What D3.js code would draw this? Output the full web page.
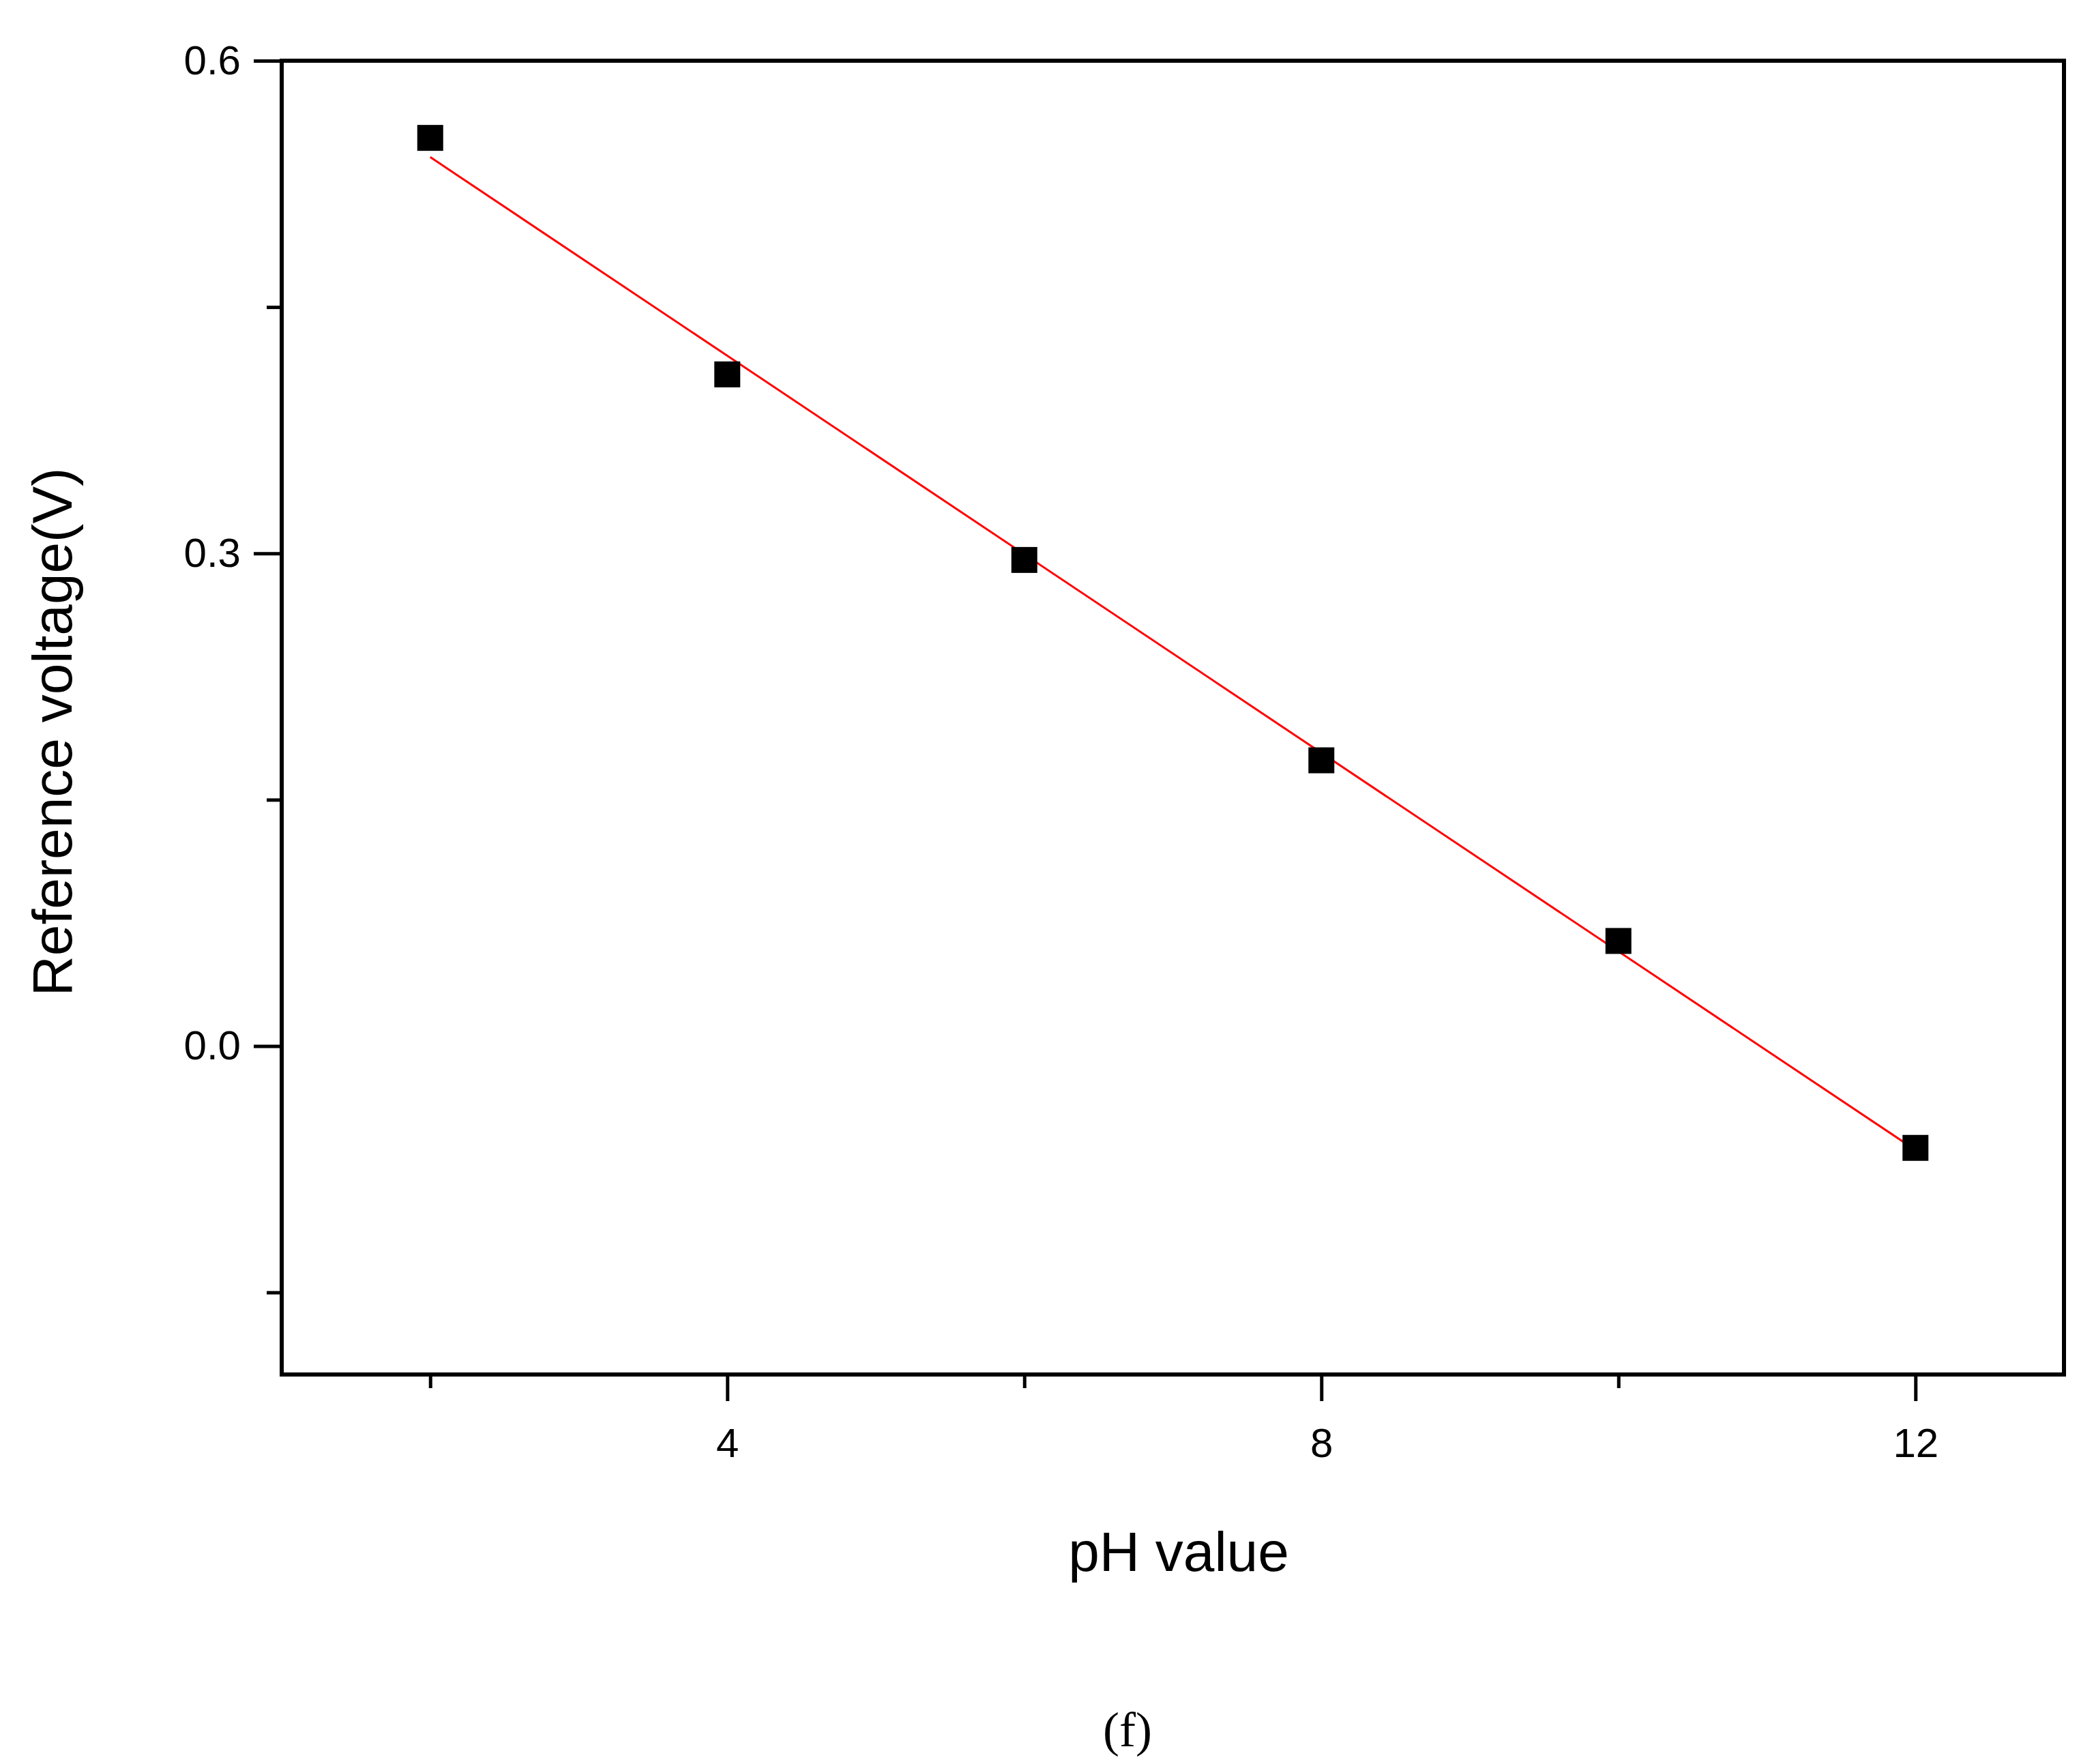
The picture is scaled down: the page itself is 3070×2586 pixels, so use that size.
<!DOCTYPE html>
<html>
<head>
<meta charset="utf-8">
<script src="https://cdn.jsdelivr.net/npm/d3@7"></script>
<style>
  body { margin: 0; background: #fff; }
  text { font-family: "Liberation Sans", Arial, sans-serif; }
</style>
</head>
<body>
<div id="chart"></div>
<script>
// ------------ DATA ------------
var phValues = [2, 4, 6, 8, 10, 12];
var voltages = [0.553, 0.409, 0.296, 0.174, 0.064, -0.062];
var xTickValues = [2, 4, 6, 8, 10, 12];
var xTickLabels = ["", "4", "", "8", "", "12"];
var yTickValues = [-0.15, 0, 0.15, 0.3, 0.45, 0.6];
var yTickLabels = ["", "0.0", "", "0.3", "", "0.6"];

var svgWidth = 3070, svgHeight = 2586;
var margin = { top: 89, right: 44, bottom: 571, left: 413 };
var chartWidth = svgWidth - margin.left - margin.right;
var chartHeight = svgHeight - margin.top - margin.bottom;

var svg = d3.select("#chart").append("svg")
  .attr("width", svgWidth)
  .attr("height", svgHeight);

var chartGroup = svg.append("g")
  .attr("transform", `translate(${margin.left}, ${margin.top})`);

// scales
var x = d3.scaleLinear().domain([1, 13]).range([0, chartWidth]);
var y = d3.scaleLinear().domain([-0.2, 0.6]).range([chartHeight, 0]);

// linear fit (least squares)
var mx = d3.mean(phValues), my = d3.mean(voltages);
var sxy = d3.sum(phValues, (p, i) => (p - mx) * (voltages[i] - my));
var sxx = d3.sum(phValues, p => (p - mx) * (p - mx));
var slope = sxy / sxx, intercept = my - slope * mx;

// ------------ AXES ------------
var bottomAxis = d3.axisBottom(x).tickValues(xTickValues)
  .tickSize(39).tickFormat((d, i) => xTickLabels[i]);
var leftAxis = d3.axisLeft(y).tickValues(yTickValues)
  .tickSize(41).tickFormat((d, i) => yTickLabels[i]);

var gx = chartGroup.append("g")
  .attr("transform", "translate(0," + chartHeight + ")")
  .call(bottomAxis);
var gy = chartGroup.append("g").call(leftAxis);

[gx, gy].forEach(function(g) {
  g.attr("font-size", null);
  g.select(".domain").remove();
  g.selectAll(".tick line").attr("stroke", "#000").attr("stroke-width", 5);
  g.selectAll(".tick text").attr("fill", "#000").style("font-size", "60px");
});
gx.selectAll(".tick line").attr("y2", (d, i) => xTickLabels[i] ? 39 : 20);
gx.selectAll(".tick text").attr("y", 78);
gy.selectAll(".tick line").attr("x2", (d, i) => yTickLabels[i] ? -41 : -22);
gy.selectAll(".tick text").attr("x", -60);

// frame
chartGroup.append("rect")
  .attr("width", chartWidth).attr("height", chartHeight)
  .attr("fill", "none").attr("stroke", "#000").attr("stroke-width", 6);

// ------------ FIT LINE ------------
chartGroup.append("path")
  .datum([phValues[0], phValues[phValues.length - 1]])
  .attr("fill", "none").attr("stroke", "#ff0000").attr("stroke-width", 3)
  .attr("d", d3.line().x(d => x(d)).y(d => y(intercept + slope * d)));

// ------------ POINTS ------------
var s = 38;
chartGroup.append("g").selectAll("rect")
  .data(phValues).enter().append("rect")
  .attr("x", d => x(d) - s / 2)
  .attr("y", (d, i) => y(voltages[i]) - s / 2)
  .attr("width", s).attr("height", s)
  .attr("fill", "#000");

// ------------ LABELS ------------
svg.append("text")
  .attr("x", 1728).attr("y", 2303)
  .attr("text-anchor", "middle").attr("font-size", 82)
  .text("pH value");

svg.append("text")
  .attr("transform", "translate(105, 1073) rotate(-90)")
  .attr("text-anchor", "middle").attr("font-size", 82)
  .text("Reference voltage(V)");

svg.append("text")
  .attr("x", 1653).attr("y", 2560)
  .attr("text-anchor", "middle").attr("font-size", 72)
  .style("font-family", "'Liberation Serif', 'Times New Roman', serif")
  .text("(f)");
</script>
</body>
</html>
